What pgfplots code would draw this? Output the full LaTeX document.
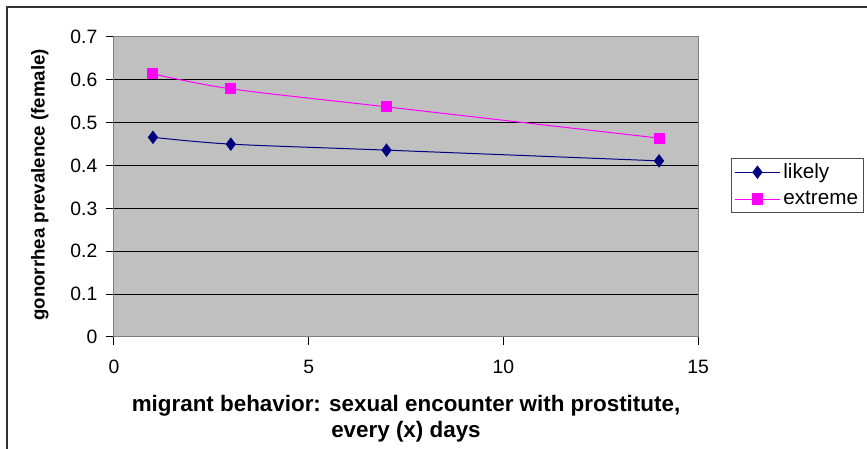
\documentclass[border=0pt]{standalone}
\usepackage{fontspec}
\setmainfont{Liberation Sans}
\usepackage{pgfplots}
\pgfplotsset{compat=1.18}
\definecolor{likelyc}{HTML}{000080}
\definecolor{extremec}{HTML}{FF00FF}
\definecolor{plotbg}{HTML}{C0C0C0}
\begin{document}
\begin{tikzpicture}
\useasboundingbox (0pt,0pt) rectangle (650.25pt,336.75pt);
\draw[line width=1.5pt, black!80] (5.25pt,0pt) -- (5.25pt,331.5pt) -- (650.25pt,331.5pt);
\begin{axis}[
  at={(85.5pt,84pt)}, anchor=south west,
  scale only axis, width=438pt, height=225pt,
  xmin=0, xmax=15, ymin=0, ymax=0.7,
  xtick={0,5,10,15}, ytick={0,0.1,...,0.7},
  yticklabel style={/pgf/number format/fixed,/pgf/number format/precision=1},
  /pgf/number format/assume math mode=true,
  tick label style={font=\fontsize{14.5}{16}\selectfont},
  tick align=outside, tick pos=left,
  major tick length=6pt,
  tick style={black, line width=0.75pt},
  axis background/.style={fill=plotbg},
  axis line style={draw=gray, line width=0.75pt},
  ymajorgrids, grid style={black, line width=0.75pt},
  xlabel={migrant behavior: sexual encounter with prostitute,\\every (x) days},
  xlabel style={font=\fontsize{16.8}{19}\selectfont\bfseries, align=center, at={(axis description cs:0.5,-0.18)}, anchor=north},
  ylabel={gonorrhea prevalence (female)},
  ylabel style={font=\fontsize{14}{16}\selectfont\bfseries, at={(axis description cs:-0.127,0.507)}, anchor=center},
  xticklabel style={yshift=-8pt},
  yticklabel style={xshift=-3pt},
  legend style={at={(1.0565,0.597)}, anchor=north west, draw=black!70, line width=0.75pt, fill=white, font=\fontsize{15.5}{17}\selectfont, inner sep=2pt, row sep=4pt, cells={anchor=west}},
  legend image code/.code={\draw[mark repeat=2,mark phase=2] plot coordinates {(0cm,0cm) (0.6cm,0cm) (1.2cm,0cm)};},
  clip=false,
]
\addplot[likelyc, line width=0.75pt, smooth, tension=0.5, mark=diamond*, mark size=4.5pt, mark options={solid, scale=1}] coordinates {(1,0.466) (3,0.450) (7,0.436) (14,0.411)};
\addlegendentry{likely}
\addplot[extremec, line width=0.75pt, smooth, tension=0.5, mark=square*, mark size=3.8pt] coordinates {(1,0.614) (3,0.579) (7,0.537) (14,0.464)};
\addlegendentry{extreme}
\end{axis}
\end{tikzpicture}
\end{document}
